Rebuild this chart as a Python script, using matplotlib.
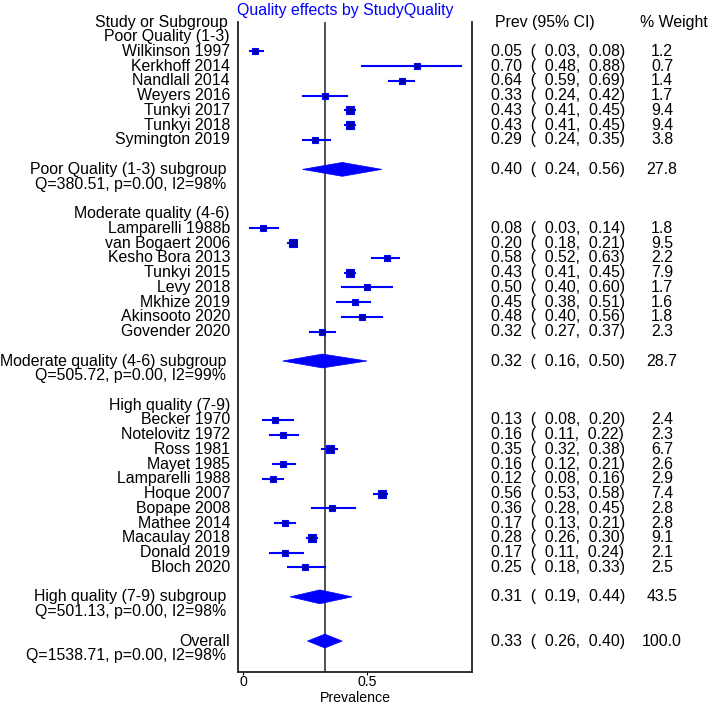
import matplotlib
matplotlib.use('Agg')
import matplotlib.pyplot as plt
from matplotlib.patches import Polygon
from matplotlib.transforms import blended_transform_factory

plt.rcParams['font.family'] = ['Liberation Sans', 'DejaVu Sans']

# group names
groups = ['Poor Quality (1-3)', 'Moderate quality (4-6)', 'High quality (7-9)']

# studies per group
poor_names = ['Wilkinson 1997', 'Kerkhoff 2014', 'Nandlall 2014', 'Weyers 2016',
              'Tunkyi 2017', 'Tunkyi 2018', 'Symington 2019']
poor_prev = [0.05, 0.70, 0.64, 0.33, 0.43, 0.43, 0.29]
poor_lo = [0.03, 0.48, 0.59, 0.24, 0.41, 0.41, 0.24]
poor_hi = [0.08, 0.88, 0.69, 0.42, 0.45, 0.45, 0.35]
poor_w = [1.2, 0.7, 1.4, 1.7, 9.4, 9.4, 3.8]

mod_names = ['Lamparelli 1988b', 'van Bogaert 2006', 'Kesho Bora 2013',
             'Tunkyi 2015', 'Levy 2018', 'Mkhize 2019', 'Akinsooto 2020',
             'Govender 2020']
mod_prev = [0.08, 0.20, 0.58, 0.43, 0.50, 0.45, 0.48, 0.32]
mod_lo = [0.03, 0.18, 0.52, 0.41, 0.40, 0.38, 0.40, 0.27]
mod_hi = [0.14, 0.21, 0.63, 0.45, 0.60, 0.51, 0.56, 0.37]
mod_w = [1.8, 9.5, 2.2, 7.9, 1.7, 1.6, 1.8, 2.3]

high_names = ['Becker 1970', 'Notelovitz 1972', 'Ross 1981', 'Mayet 1985',
              'Lamparelli 1988', 'Hoque 2007', 'Bopape 2008', 'Mathee 2014',
              'Macaulay 2018', 'Donald 2019', 'Bloch 2020']
high_prev = [0.13, 0.16, 0.35, 0.16, 0.12, 0.56, 0.36, 0.17, 0.28, 0.17, 0.25]
high_lo = [0.08, 0.11, 0.32, 0.12, 0.08, 0.53, 0.28, 0.13, 0.26, 0.11, 0.18]
high_hi = [0.20, 0.22, 0.38, 0.21, 0.16, 0.58, 0.45, 0.21, 0.30, 0.24, 0.33]
high_w = [2.4, 2.3, 6.7, 2.6, 2.9, 7.4, 2.8, 2.8, 9.1, 2.1, 2.5]

# subgroup pooled results
sub_prev = [0.40, 0.32, 0.31]
sub_lo = [0.24, 0.16, 0.19]
sub_hi = [0.56, 0.50, 0.44]
sub_w = [27.8, 28.7, 43.5]
sub_q = [380.51, 505.72, 501.13]
sub_i2 = [98, 99, 98]

# overall
overall = (0.33, 0.26, 0.40, 100.0)
overall_q = 1538.71
overall_i2 = 98

BLUE = '#0000ff'
NAVY = '#0000a8'
FS = 11.4
W, H = 712, 706


def ci_text(p, lo, hi):
    return '{0:.2f}  (  {1:.2f},  {2:.2f})'.format(p, lo, hi)


def diamond(ax, y, p, lo, hi, h=0.47):
    pts = [(lo, y), (p, y - h), (hi, y), (p, y + h)]
    ax.add_patch(Polygon(pts, closed=True, facecolor=BLUE, edgecolor=BLUE,
                         lw=0.5, zorder=3))


def draw():
    fig = plt.figure(figsize=(W / 100, H / 100), dpi=100)
    ax = fig.add_axes([238 / W, 1 - 672 / H, (472 - 238) / W, (672 - 22) / H])
    tr = blended_transform_factory(fig.transFigure, ax.transData)

    x_name = 230 / W
    x_ci = 491 / W
    x_wt = 662 / W

    ax.text(228 / W, 0, 'Study or Subgroup', transform=tr, ha='right',
            va='center', fontsize=FS)
    ax.text(495 / W, 0, 'Prev (95% CI)', transform=tr, ha='left',
            va='center', fontsize=FS)
    ax.text(640 / W, 0, '% Weight', transform=tr, ha='left',
            va='center', fontsize=FS)

    data = [(poor_names, poor_prev, poor_lo, poor_hi, poor_w),
            (mod_names, mod_prev, mod_lo, mod_hi, mod_w),
            (high_names, high_prev, high_lo, high_hi, high_w)]

    row = 1
    for g, (names, prev, lo, hi, w) in enumerate(data):
        ax.text(x_name, row, groups[g], transform=tr, ha='right',
                va='center', fontsize=FS)
        row += 1
        for i in range(len(names)):
            ax.text(x_name, row, names[i], transform=tr, ha='right',
                    va='center', fontsize=FS)
            ax.plot([lo[i], hi[i]], [row, row], color=BLUE, lw=1.5, zorder=3)
            ms = 3.2 + 0.8 * w[i] ** 0.5
            ax.plot(prev[i], row, marker='s', ms=ms, color=NAVY,
                    markeredgecolor=BLUE, mew=0.8, zorder=4)
            ax.text(x_ci, row, ci_text(prev[i], lo[i], hi[i]), transform=tr,
                    ha='left', va='center', fontsize=FS)
            ax.text(x_wt, row, '{0:.1f}'.format(w[i]), transform=tr,
                    ha='center', va='center', fontsize=FS)
            row += 1
        row += 1
        ax.text(226 / W, row, groups[g] + ' subgroup', transform=tr,
                ha='right', va='center', fontsize=FS)
        diamond(ax, row, sub_prev[g], sub_lo[g], sub_hi[g])
        ax.text(x_ci, row, ci_text(sub_prev[g], sub_lo[g], sub_hi[g]),
                transform=tr, ha='left', va='center', fontsize=FS)
        ax.text(x_wt, row, '{0:.1f}'.format(sub_w[g]), transform=tr,
                ha='center', va='center', fontsize=FS)
        row += 1
        ax.text(226 / W, row,
                'Q={0:.2f}, p=0.00, I2={1}%'.format(sub_q[g], sub_i2[g]),
                transform=tr, ha='right', va='center', fontsize=FS)
        row += 2

    p, lo, hi, w = overall
    ax.text(x_name, row, 'Overall', transform=tr, ha='right',
            va='center', fontsize=FS)
    diamond(ax, row, p, lo, hi)
    ax.text(x_ci, row, ci_text(p, lo, hi), transform=tr, ha='left',
            va='center', fontsize=FS)
    ax.text(x_wt, row, '{0:.1f}'.format(w), transform=tr, ha='center',
            va='center', fontsize=FS)
    row += 1
    ax.text(226 / W, row,
            'Q={0:.2f}, p=0.00, I2={1}%'.format(overall_q, overall_i2),
            transform=tr, ha='right', va='center', fontsize=FS)

    ax.axvline(p, color='#333333', lw=1.2, zorder=2)

    ax.set_xlim(-0.02, 0.923)
    ax.set_ylim(44.1, 0)
    ax.spines['top'].set_visible(False)
    for s in ['left', 'right', 'bottom']:
        ax.spines[s].set_color('#222222')
        ax.spines[s].set_linewidth(1.3)
    ax.set_yticks([])
    ax.set_xticks([0, 0.5])
    ax.set_xticklabels(['0', '0.5'], fontsize=10.2)
    ax.tick_params(axis='x', length=2.5, pad=0)
    # x label placed by hand so it fits under the tick labels
    fig.text(355 / W, 1 / H, 'Prevalence', ha='center', va='bottom',
             fontsize=10.2)

    fig.text(237 / W, 1 - 10 / H, 'Quality effects by StudyQuality',
             color=BLUE, ha='left', va='center', fontsize=FS)
    return fig


def main():
    fig = draw()
    fig.savefig('out.png', dpi=100)


if __name__ == '__main__':
    main()
